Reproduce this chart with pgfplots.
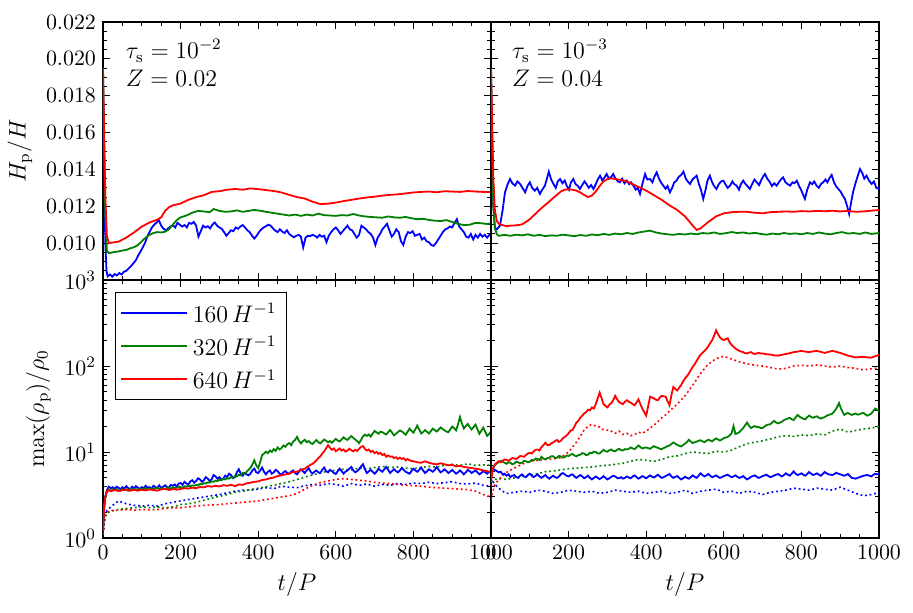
\documentclass[border=0pt]{standalone}
\usepackage{pgfplots}
\pgfplotsset{compat=1.18}
\definecolor{mplblue}{rgb}{0,0,1}
\definecolor{mplgreen}{rgb}{0,0.5,0}
\definecolor{mplred}{rgb}{1,0,0}
\tikzset{
  cb/.style={mplblue, line width=0.9pt},
  cg/.style={mplgreen, line width=0.9pt},
  cr/.style={mplred, line width=0.9pt},
  cdot/.style={line width=0.8pt, dash pattern=on 0.9pt off 1.4pt},
}
\pgfplotsset{
  myax/.style={width=194pt,height=129pt,scale only axis,
    xmin=0,xmax=1000,
    xtick={0,200,400,600,800,1000},
    minor xtick={50,100,150,250,300,350,450,500,550,650,700,750,850,900,950},
    tick align=inside,
    major tick length=3.5pt, minor tick length=1.8pt,
    every tick/.style={black,line width=0.5pt},
    axis line style={line width=0.8pt},
    tick label style={font=\fontsize{10.95}{13}\selectfont},
    label style={font=\fontsize{12}{14}\selectfont},
    xticklabel style={/pgf/number format/1000 sep={}},
  },
  topax/.style={myax, ymin=0.008, ymax=0.022,
    ytick={0.010,0.012,0.014,0.016,0.018,0.020,0.022},
    minor ytick={0.0085,0.009,0.0095,0.0105,0.011,0.0115,0.0125,0.013,0.0135,0.0145,0.015,0.0155,0.0165,0.017,0.0175,0.0185,0.019,0.0195,0.0205,0.021,0.0215},
    scaled y ticks=false,
    yticklabel style={/pgf/number format/.cd, fixed, fixed zerofill, precision=3},
    xticklabels={},
  },
}
\newcommand{\annfont}{\fontsize{12}{14}\selectfont}
\begin{document}
\begin{tikzpicture}
\path (-51.5pt,-37pt) rectangle (405pt,269pt);

%%%%%%%%%%%%%%%% TOP LEFT
\begin{axis}[topax, at={(0pt,129pt)}, anchor=south west, ylabel={$H_{\rm p}/H$}]
\addplot[cb] coordinates {
(0,0.0190)(3,0.0140)(6,0.0100)(9,0.0085)(12,0.00820)(18,0.00830)(24,0.00818)(30,0.00832)(36,0.00825)(42,0.00838)(48,0.00830)(54,0.00845)(60,0.00850)(66,0.00862)(72,0.00875)(78,0.00890)(84,0.00905)(90,0.00930)(96,0.00952)(102,0.00975)(108,0.01000)(114,0.01035)(120,0.01060)(126,0.01085)(132,0.01100)(138,0.01112)(144,0.01125)(150,0.01095)(156,0.01078)(162,0.01070)(168,0.01080)(174,0.01090)(180,0.01098)(186,0.01085)(192,0.01110)(198,0.01100)(204,0.01090)(210,0.01098)(216,0.01085)(222,0.01110)(228,0.01105)(234,0.01115)(240,0.01095)(246,0.01035)(252,0.01065)(258,0.01095)(264,0.01085)(270,0.01092)(276,0.01080)(282,0.01100)(288,0.01112)(294,0.01095)(300,0.01085)(306,0.01078)(312,0.01060)(318,0.01040)(324,0.01055)(330,0.01070)(336,0.01065)(342,0.01085)(348,0.01078)(354,0.01090)(360,0.01098)(366,0.01085)(372,0.01070)(378,0.01060)(384,0.01040)(390,0.01025)(396,0.01040)(402,0.01060)(408,0.01075)(414,0.01085)(420,0.01092)(426,0.01100)(432,0.01095)(438,0.01080)(444,0.01068)(450,0.01060)(456,0.01075)(462,0.01062)(468,0.01055)(474,0.01070)(480,0.01050)(486,0.01040)(492,0.01032)(498,0.01040)(504,0.01045)(510,0.01035)(516,0.00977)(522,0.01030)(528,0.01040)(534,0.01038)(540,0.01045)(546,0.01040)(552,0.01030)(558,0.01045)(564,0.01035)(570,0.01040)(576,0.01005)(582,0.01040)(588,0.01060)(594,0.01075)(600,0.01085)(606,0.01070)(612,0.01050)(618,0.01065)(624,0.01080)(630,0.01095)(636,0.01075)(642,0.01070)(648,0.01050)(654,0.01030)(660,0.01045)(666,0.01095)(672,0.01085)(678,0.01075)(684,0.01060)(690,0.01050)(696,0.01030)(702,0.00990)(708,0.01030)(714,0.01050)(720,0.01075)(726,0.01090)(732,0.01105)(738,0.01070)(744,0.01035)(750,0.01050)(756,0.01075)(762,0.01060)(768,0.01010)(774,0.00990)(780,0.01035)(786,0.01060)(792,0.01055)(798,0.01065)(804,0.01040)(810,0.01045)(816,0.01050)(822,0.01020)(828,0.01030)(834,0.01010)(840,0.01005)(846,0.00990)(852,0.00985)(858,0.01000)(864,0.01020)(870,0.01040)(876,0.01060)(882,0.01075)(888,0.01080)(894,0.01090)(900,0.01085)(906,0.01110)(912,0.01130)(918,0.01090)(924,0.01075)(930,0.01060)(936,0.01035)(942,0.01030)(948,0.01050)(954,0.01020)(960,0.01045)(966,0.01030)(972,0.01050)(978,0.01035)(984,0.01045)(990,0.01030)(996,0.01045)(1000,0.01040)
};
\addplot[cg] coordinates {
(0,0.0195)(3,0.0150)(6,0.0115)(10,0.0096)(15,0.00945)(20,0.00948)(30,0.00952)(40,0.00955)(50,0.00960)(60,0.00963)(70,0.00972)(80,0.00978)(90,0.00990)(100,0.01010)(110,0.01030)(120,0.01045)(130,0.01055)(140,0.01060)(150,0.01058)(160,0.01062)(170,0.01075)(180,0.01100)(190,0.01125)(200,0.01140)(215,0.01150)(230,0.01165)(245,0.01175)(260,0.01172)(275,0.01168)(285,0.01185)(300,0.01175)(315,0.01170)(330,0.01172)(345,0.01178)(360,0.01170)(375,0.01175)(390,0.01180)(405,0.01176)(420,0.01170)(435,0.01165)(450,0.01160)(465,0.01155)(480,0.01150)(495,0.01155)(510,0.01148)(525,0.01155)(540,0.01150)(555,0.01160)(570,0.01152)(585,0.01150)(600,0.01148)(615,0.01152)(630,0.01150)(645,0.01158)(660,0.01150)(675,0.01145)(690,0.01142)(705,0.01140)(720,0.01138)(735,0.01145)(750,0.01140)(765,0.01138)(780,0.01142)(795,0.01135)(810,0.01130)(825,0.01132)(840,0.01126)(855,0.01122)(870,0.01120)(885,0.01125)(900,0.01115)(915,0.01105)(930,0.01098)(945,0.01100)(960,0.01110)(975,0.01108)(990,0.01104)(1000,0.01106)
};
\addplot[cr] coordinates {
(0,0.0195)(3,0.0160)(6,0.0125)(10,0.0104)(15,0.0100)(20,0.01002)(40,0.01008)(60,0.01030)(80,0.01058)(100,0.01090)(120,0.01112)(140,0.01128)(150,0.01140)(160,0.01175)(170,0.01195)(180,0.01205)(200,0.01215)(220,0.01235)(240,0.01250)(260,0.01260)(280,0.01278)(300,0.01282)(320,0.01290)(340,0.01294)(360,0.01290)(380,0.01297)(400,0.01293)(420,0.01288)(440,0.01283)(460,0.01275)(480,0.01262)(500,0.01250)(520,0.01242)(540,0.01225)(560,0.01212)(580,0.01214)(600,0.01220)(620,0.01228)(640,0.01235)(660,0.01242)(680,0.01248)(700,0.01252)(720,0.01258)(740,0.01262)(760,0.01265)(780,0.01270)(800,0.01275)(820,0.01278)(840,0.01280)(860,0.01276)(880,0.01282)(900,0.01280)(920,0.01278)(940,0.01283)(960,0.01280)(980,0.01278)(1000,0.01277)
};
\node[anchor=base west, inner sep=0pt, xshift=11.3pt, yshift=-18.3pt, font=\annfont] at (rel axis cs:0,1) {$\tau_{\rm s}=10^{-2}$};
\node[anchor=base west, inner sep=0pt, xshift=11.3pt, yshift=-32.3pt, font=\annfont] at (rel axis cs:0,1) {$Z=0.02$};
\end{axis}

%%%%%%%%%%%%%%%% TOP RIGHT
\begin{axis}[topax, at={(194pt,129pt)}, anchor=south west, yticklabels={}]
\addplot[cb] coordinates {
(0,0.0190)(3,0.0150)(6,0.0120)(10,0.01085)(15,0.01075)(23,0.01095)(30,0.01180)(36,0.01276)(43,0.01320)(49,0.01348)(55,0.01325)(62,0.01312)(68,0.01335)(75,0.01321)(81,0.01300)(88,0.01276)(94,0.01310)(100,0.01330)(106,0.01300)(113,0.01285)(119,0.01300)(126,0.01267)(132,0.01290)(139,0.01312)(144,0.01350)(149,0.01388)(155,0.01345)(161,0.01321)(167,0.01300)(172,0.01335)(178,0.01348)(184,0.01325)(190,0.01340)(195,0.01312)(201,0.01290)(206,0.01330)(212,0.01348)(218,0.01320)(224,0.01310)(229,0.01294)(235,0.01315)(241,0.01335)(246,0.01321)(252,0.01300)(258,0.01315)(264,0.01294)(270,0.01320)(275,0.01345)(281,0.01366)(287,0.01340)(292,0.01355)(298,0.01375)(304,0.01350)(310,0.01360)(315,0.01375)(321,0.01350)(327,0.01335)(332,0.01330)(338,0.01350)(344,0.01325)(350,0.01339)(356,0.01320)(361,0.01330)(367,0.01312)(373,0.01290)(378,0.01300)(384,0.01267)(390,0.01320)(397,0.01375)(403,0.01345)(410,0.01348)(416,0.01330)(421,0.01360)(427,0.01384)(433,0.01350)(438,0.01330)(444,0.01312)(450,0.01295)(455,0.01310)(461,0.01276)(467,0.01300)(472,0.01330)(478,0.01339)(484,0.01360)(490,0.01370)(496,0.01388)(502,0.01350)(507,0.01335)(513,0.01321)(519,0.01345)(524,0.01355)(530,0.01366)(536,0.01320)(541,0.01290)(547,0.01240)(553,0.01290)(558,0.01340)(564,0.01366)(570,0.01330)(575,0.01310)(581,0.01294)(587,0.01320)(593,0.01335)(599,0.01339)(604,0.01320)(610,0.01300)(616,0.01312)(622,0.01335)(627,0.01320)(633,0.01312)(639,0.01290)(644,0.01320)(650,0.01339)(656,0.01320)(661,0.01310)(667,0.01294)(673,0.01320)(679,0.01345)(685,0.01330)(691,0.01315)(696,0.01340)(701,0.01360)(706,0.01375)(712,0.01350)(719,0.01330)(724,0.01310)(730,0.01325)(736,0.01312)(742,0.01330)(747,0.01345)(753,0.01357)(759,0.01330)(765,0.01320)(771,0.01312)(777,0.01330)(782,0.01325)(788,0.01339)(794,0.01310)(799,0.01290)(804,0.01265)(809,0.01240)(815,0.01290)(822,0.01330)(828,0.01320)(833,0.01335)(839,0.01312)(845,0.01300)(850,0.01320)(856,0.01330)(862,0.01345)(867,0.01330)(873,0.01355)(878,0.01370)(884,0.01330)(889,0.01310)(895,0.01294)(901,0.01280)(906,0.01260)(912,0.01240)(918,0.01200)(923,0.01158)(928,0.01220)(933,0.01276)(940,0.01330)(946,0.01370)(951,0.01402)(957,0.01380)(962,0.01350)(968,0.01366)(974,0.01340)(981,0.01321)(987,0.01335)(993,0.01300)(1000,0.01294)
};
\addplot[cg] coordinates {
(0,0.0195)(3,0.0155)(6,0.0120)(10,0.0108)(15,0.01048)(20,0.01040)(35,0.01045)(50,0.01040)(65,0.01046)(80,0.01042)(95,0.01048)(110,0.01040)(125,0.01045)(140,0.01038)(155,0.01042)(170,0.01040)(185,0.01046)(200,0.01042)(215,0.01038)(230,0.01044)(245,0.01040)(260,0.01047)(275,0.01043)(290,0.01050)(305,0.01045)(320,0.01052)(335,0.01048)(350,0.01055)(365,0.01050)(380,0.01058)(395,0.01063)(410,0.01068)(425,0.01058)(440,0.01052)(455,0.01048)(470,0.01045)(485,0.01050)(500,0.01047)(515,0.01052)(530,0.01048)(545,0.01055)(560,0.01052)(575,0.01058)(590,0.01050)(605,0.01054)(620,0.01060)(635,0.01055)(650,0.01058)(665,0.01052)(680,0.01056)(695,0.01050)(710,0.01046)(725,0.01052)(740,0.01048)(755,0.01055)(770,0.01050)(785,0.01053)(800,0.01048)(815,0.01055)(830,0.01050)(845,0.01058)(860,0.01052)(875,0.01048)(890,0.01055)(905,0.01060)(920,0.01052)(935,0.01055)(950,0.01050)(965,0.01058)(980,0.01050)(1000,0.01055)
};
\addplot[cr] coordinates {
(0,0.0195)(3,0.0165)(6,0.0135)(10,0.0118)(15,0.0112)(20,0.01105)(30,0.01098)(40,0.01092)(50,0.01095)(60,0.01096)(70,0.01098)(80,0.01102)(90,0.01115)(100,0.01130)(110,0.01150)(120,0.01170)(130,0.01190)(140,0.01208)(150,0.01225)(160,0.01245)(170,0.01262)(180,0.01280)(190,0.01290)(200,0.01292)(210,0.01290)(220,0.01285)(230,0.01275)(240,0.01262)(250,0.01250)(260,0.01258)(270,0.01280)(280,0.01310)(290,0.01335)(300,0.01348)(310,0.01352)(320,0.01348)(330,0.01345)(340,0.01340)(350,0.01335)(360,0.01325)(370,0.01315)(380,0.01305)(390,0.01295)(400,0.01285)(420,0.01260)(440,0.01235)(460,0.01205)(480,0.01180)(500,0.01145)(520,0.01095)(530,0.01072)(540,0.01080)(560,0.01115)(580,0.01145)(600,0.01162)(620,0.01168)(640,0.01170)(660,0.01170)(680,0.01165)(700,0.01162)(720,0.01168)(740,0.01170)(760,0.01172)(780,0.01170)(800,0.01174)(820,0.01172)(840,0.01175)(860,0.01173)(880,0.01176)(900,0.01172)(920,0.01175)(940,0.01170)(960,0.01172)(980,0.01176)(1000,0.01180)
};
\node[anchor=base west, inner sep=0pt, xshift=10.3pt, yshift=-18.3pt, font=\annfont] at (rel axis cs:0,1) {$\tau_{\rm s}=10^{-3}$};
\node[anchor=base west, inner sep=0pt, xshift=10.3pt, yshift=-32.3pt, font=\annfont] at (rel axis cs:0,1) {$Z=0.04$};
\end{axis}

%%%%%%%%%%%%%%%% BOTTOM LEFT
\begin{axis}[myax, ymode=log, ymin=1, ymax=1000, ytick={1,10,100,1000}, xlabel={$t/P$},
  at={(0pt,0pt)}, anchor=south west, ylabel={$\max(\rho_{\rm p})/\rho_0$},
  legend style={at={(rel axis cs:0,1)}, anchor=north west, xshift=5.85pt, yshift=-5.85pt,
    draw=black, line width=0.8pt, font=\fontsize{12}{14}\selectfont,
    inner xsep=2.5pt, inner ysep=1.85pt, row sep=0pt, cells={anchor=west},
    nodes={inner xsep=2.5pt, inner ysep=0pt, minimum height=16.6pt, text depth=0pt}},
  legend image code/.code={\draw[#1] (5.35pt,0pt) -- (22.85pt,0pt); \path (0pt,0pt) -- (32.85pt,0pt);},
  ]
\addplot[mplblue, cdot, forget plot] coordinates {
(0,1.1)(5,1.8)(10,2.1)(20,2.3)(30,2.5)(40,2.7)(50,2.6)(60,2.5)(80,2.4)(100,2.35)(120,2.4)(140,2.35)(160,2.5)(180,2.6)(200,2.7)(220,2.8)(240,2.9)(260,3.0)(280,3.1)(300,3.2)(320,3.35)(340,3.5)(360,3.6)(380,3.6)(400,3.7)(420,3.85)(440,3.75)(460,4.0)(480,3.9)(500,3.85)(520,4.05)(540,4.2)(560,4.1)(580,4.3)(600,4.2)(620,4.0)(640,4.3)(660,4.1)(680,4.25)(700,4.0)(720,4.2)(740,4.1)(760,4.3)(780,4.2)(800,4.35)(820,4.3)(840,4.45)(860,4.3)(880,4.4)(900,4.5)(920,4.3)(940,4.25)(960,4.35)(980,4.1)(1000,4.0)
};
\addplot[mplgreen, cdot, forget plot] coordinates {
(0,1.1)(5,1.7)(10,1.95)(20,2.05)(40,2.15)(60,2.2)(80,2.25)(100,2.3)(120,2.25)(140,2.3)(160,2.25)(180,2.3)(200,2.45)(220,2.5)(240,2.6)(260,2.75)(280,2.9)(300,3.05)(320,3.2)(340,3.4)(360,3.5)(380,3.65)(400,3.8)(420,3.95)(440,4.1)(460,4.3)(480,4.5)(500,4.8)(520,5.1)(540,5.4)(560,5.7)(580,6.0)(600,6.1)(620,6.3)(640,6.2)(660,6.5)(680,6.4)(700,6.6)(720,6.8)(740,6.6)(760,6.7)(780,6.5)(800,6.4)(820,6.6)(840,6.8)(860,6.7)(880,7.0)(900,7.2)(920,7.0)(940,7.3)(960,7.0)(980,7.1)(1000,7.0)
};
\addplot[mplred, cdot, forget plot] coordinates {
(0,1.1)(5,1.7)(10,2.0)(20,2.1)(40,2.1)(60,2.15)(80,2.1)(100,2.15)(120,2.12)(140,2.15)(160,2.2)(180,2.25)(200,2.25)(220,2.3)(240,2.35)(260,2.4)(280,2.42)(300,2.45)(320,2.5)(340,2.55)(360,2.6)(380,2.65)(400,2.7)(420,2.8)(440,2.9)(460,3.0)(480,3.1)(500,3.3)(520,3.7)(540,4.1)(560,4.4)(580,4.6)(600,4.8)(620,4.9)(640,4.8)(660,4.7)(680,4.6)(700,4.45)(720,4.35)(740,4.3)(760,4.2)(780,4.1)(800,4.05)(820,4.0)(840,3.9)(860,3.85)(880,3.8)(900,3.75)(920,3.7)(940,3.65)(960,3.5)(980,3.2)(1000,3.0)
};
\addplot[cb] coordinates {
(0,1.2)(3,2.2)(6,3.0)(10,3.6)(15,3.95)(20,3.8)(25,3.9)(30,3.7)(35,3.95)(40,3.85)(45,3.7)(50,3.9)(55,3.75)(60,4.0)(65,3.8)(70,3.7)(75,3.95)(80,3.8)(85,4.0)(90,3.85)(95,3.7)(100,3.9)(105,3.8)(110,4.05)(115,3.85)(120,3.9)(125,3.75)(130,4.05)(135,3.9)(140,3.85)(145,4.1)(150,3.8)(155,3.95)(160,4.1)(165,3.9)(170,3.85)(175,4.15)(180,4.05)(185,4.2)(190,3.95)(195,4.3)(200,4.35)(205,4.15)(210,4.5)(215,4.3)(220,4.2)(225,4.55)(230,4.7)(235,4.4)(240,4.6)(245,4.95)(250,4.8)(255,4.5)(260,4.7)(265,5.1)(270,4.9)(275,4.6)(280,4.8)(285,5.4)(290,5.2)(295,4.9)(300,5.1)(305,4.75)(310,4.9)(315,5.3)(320,5.1)(325,5.6)(330,5.4)(335,4.95)(340,5.1)(345,5.8)(350,6.3)(355,5.6)(360,5.3)(365,5.7)(370,5.5)(375,5.35)(380,5.6)(385,6.1)(390,6.4)(395,5.8)(400,5.7)(405,6.1)(410,6.6)(415,5.9)(420,5.5)(425,5.9)(430,6.1)(435,5.6)(440,5.8)(445,6.2)(450,6.0)(455,5.6)(460,5.45)(465,5.8)(470,6.0)(475,5.7)(480,5.6)(485,5.9)(490,6.1)(495,5.7)(500,5.5)(505,5.9)(510,6.3)(515,6.0)(520,5.7)(525,6.1)(530,6.5)(535,5.9)(540,5.6)(545,5.9)(550,6.1)(555,5.8)(560,5.7)(565,6.2)(570,6.6)(575,6.0)(580,5.8)(585,6.2)(590,6.0)(595,5.7)(600,5.55)(605,6.0)(610,6.4)(615,6.0)(620,5.6)(625,5.9)(630,6.1)(635,6.4)(640,6.7)(645,6.1)(650,5.8)(655,6.0)(660,6.3)(665,6.8)(670,7.2)(675,6.3)(680,5.7)(685,5.95)(690,6.2)(695,5.9)(700,5.6)(705,5.9)(710,6.4)(715,6.1)(720,5.9)(725,6.3)(730,6.7)(735,6.2)(740,5.7)(745,6.0)(750,6.3)(755,6.0)(760,5.8)(765,6.1)(770,6.5)(775,6.2)(780,5.9)(785,5.75)(790,5.6)(795,6.0)(800,6.4)(805,6.1)(810,5.9)(815,6.2)(820,6.6)(825,6.1)(830,5.7)(835,5.95)(840,6.3)(845,6.1)(850,5.9)(855,6.2)(860,6.7)(865,6.2)(870,5.8)(875,6.0)(880,6.3)(885,6.0)(890,5.7)(895,5.9)(900,6.2)(905,5.9)(910,5.6)(915,5.8)(920,6.1)(925,5.8)(930,5.5)(935,5.8)(940,6.2)(945,6.0)(950,5.7)(955,5.9)(960,6.1)(965,5.8)(970,5.5)(975,5.7)(980,6.0)(985,5.8)(990,5.6)(995,5.85)(1000,6.0)
};
\addlegendentry{$160\,H^{-1}$}
\addplot[cg] coordinates {
(0,1.2)(3,2.3)(6,3.0)(10,3.5)(15,3.7)(20,3.55)(25,3.65)(30,3.6)(35,3.7)(40,3.6)(45,3.55)(50,3.7)(55,3.6)(60,3.65)(65,3.55)(70,3.7)(75,3.75)(80,3.65)(85,3.7)(90,3.6)(95,3.75)(100,3.65)(105,3.7)(110,3.8)(115,3.65)(120,3.7)(125,3.8)(130,3.7)(135,3.75)(140,3.85)(145,3.7)(150,3.75)(155,3.8)(160,3.7)(165,3.85)(170,3.8)(175,3.75)(180,3.9)(185,3.8)(190,3.85)(195,3.95)(200,3.9)(205,3.85)(210,4.0)(215,3.95)(220,4.05)(225,4.0)(230,4.1)(235,4.05)(240,4.15)(245,4.1)(250,4.25)(255,4.2)(260,4.35)(265,4.3)(270,4.45)(275,4.4)(280,4.55)(285,4.5)(290,4.65)(295,4.6)(300,4.75)(305,4.7)(310,4.85)(315,4.8)(320,4.95)(325,4.9)(330,5.1)(335,5.0)(340,5.25)(345,5.2)(350,5.45)(355,5.35)(360,5.7)(365,5.6)(370,5.9)(375,6.2)(380,6.5)(385,7.2)(390,8.0)(395,7.0)(400,6.5)(405,7.6)(410,9.2)(415,9.6)(420,10.1)(425,9.7)(430,10.4)(435,10.0)(440,10.8)(445,10.3)(450,11.3)(455,10.7)(460,11.1)(465,11.9)(470,11.5)(475,12.3)(480,12.7)(485,12.0)(490,13.2)(495,13.8)(500,15.0)(505,13.5)(510,12.6)(515,13.3)(520,13.9)(525,13.0)(530,13.4)(535,12.7)(540,12.4)(545,13.1)(550,13.8)(555,13.0)(560,12.6)(565,13.3)(570,14.0)(575,13.5)(580,13.0)(585,13.4)(590,12.8)(595,13.5)(600,14.2)(605,13.6)(610,13.3)(615,14.0)(620,14.8)(625,14.2)(630,13.8)(635,14.6)(640,15.3)(645,14.6)(650,14.0)(655,13.4)(660,12.7)(665,13.8)(670,15.2)(675,15.9)(680,15.4)(685,16.0)(690,15.1)(695,16.3)(700,17.6)(705,16.9)(710,16.3)(715,17.2)(720,17.0)(725,16.4)(730,16.0)(735,17.0)(740,18.0)(745,16.8)(750,15.6)(755,16.3)(760,17.0)(765,17.8)(770,17.4)(775,16.6)(780,15.9)(785,17.2)(790,18.7)(795,17.6)(800,16.8)(805,18.4)(810,20.3)(815,18.2)(820,16.4)(825,17.1)(830,18.0)(835,17.2)(840,16.4)(845,17.5)(850,18.7)(855,18.0)(860,17.3)(865,18.2)(870,19.3)(875,18.6)(880,17.9)(885,17.3)(890,17.0)(895,18.3)(900,19.8)(905,18.9)(910,17.8)(915,21.0)(920,25.5)(925,21.5)(930,18.8)(935,20.0)(940,21.2)(945,19.6)(950,18.3)(955,19.5)(960,20.8)(965,18.4)(970,16.3)(975,17.6)(980,19.2)(985,17.2)(990,15.4)(995,16.2)(1000,17.2)
};
\addlegendentry{$320\,H^{-1}$}
\addplot[cr] coordinates {
(0,1.2)(3,2.3)(6,3.0)(10,3.45)(15,3.6)(20,3.5)(30,3.62)(40,3.52)(50,3.6)(60,3.66)(70,3.55)(80,3.62)(90,3.55)(100,3.65)(110,3.58)(120,3.68)(130,3.6)(140,3.55)(150,3.68)(160,3.72)(170,3.62)(180,3.7)(190,3.65)(200,3.72)(210,3.8)(220,3.75)(230,3.85)(240,3.8)(250,3.92)(260,3.88)(270,4.02)(280,3.95)(290,4.05)(300,3.98)(310,4.12)(320,4.05)(330,4.15)(340,4.02)(350,4.2)(360,4.15)(370,4.32)(380,4.4)(390,4.5)(400,4.55)(410,4.72)(420,4.8)(430,4.95)(440,5.05)(450,5.25)(460,5.35)(470,5.5)(480,5.6)(490,5.85)(500,5.9)(510,6.2)(520,6.4)(530,6.9)(540,7.3)(545,7.6)(550,8.0)(555,8.5)(560,8.9)(565,9.6)(570,10.2)(575,11.0)(580,12.0)(585,11.2)(590,10.6)(595,11.0)(600,10.2)(605,10.6)(610,11.0)(615,10.4)(620,10.7)(625,10.1)(630,10.4)(635,10.9)(640,10.5)(645,10.2)(650,10.6)(655,10.3)(660,10.9)(665,11.5)(670,11.7)(675,10.9)(680,10.4)(685,10.7)(690,10.0)(695,10.3)(700,9.7)(705,10.0)(710,9.5)(715,9.8)(720,9.2)(725,9.5)(730,8.8)(735,9.1)(740,8.8)(745,8.9)(750,8.5)(755,8.7)(760,8.3)(765,8.6)(770,8.3)(775,8.5)(780,8.0)(785,8.3)(790,8.0)(795,7.9)(800,7.8)(810,7.6)(820,7.5)(830,7.8)(840,7.5)(850,7.3)(860,7.2)(870,7.4)(880,7.2)(890,7.0)(900,7.1)(910,6.8)(920,6.9)(930,6.7)(940,6.6)(950,6.5)(960,6.4)(970,6.3)(980,6.1)(990,6.0)(1000,5.8)
};
\addlegendentry{$640\,H^{-1}$}
\end{axis}

%%%%%%%%%%%%%%%% BOTTOM RIGHT
\begin{axis}[myax, ymode=log, ymin=1, ymax=1000, ytick={1,10,100,1000}, xlabel={$t/P$},
  at={(194pt,0pt)}, anchor=south west, yticklabels={}]
\addplot[mplblue, cdot] coordinates {
(0,4.0)(5,4.5)(10,4.2)(20,3.8)(30,3.5)(40,3.3)(60,3.4)(80,3.5)(100,3.4)(120,3.6)(140,3.5)(160,3.3)(180,3.4)(200,3.6)(220,3.5)(240,3.4)(260,3.5)(280,3.3)(300,3.4)(320,3.6)(340,3.5)(360,3.4)(380,3.5)(400,3.3)(420,3.4)(440,3.5)(460,3.3)(480,3.4)(500,3.6)(520,3.3)(540,3.5)(560,3.6)(580,3.7)(600,3.4)(620,3.5)(640,3.3)(660,3.5)(680,3.4)(700,3.2)(720,3.4)(740,3.5)(760,3.6)(780,3.8)(800,3.7)(820,3.6)(840,3.8)(860,3.7)(880,3.6)(900,3.9)(920,3.6)(940,3.3)(960,3.1)(980,3.2)(1000,3.4)
};
\addplot[mplgreen, cdot] coordinates {
(0,4.5)(10,4.8)(20,4.9)(40,4.8)(60,5.0)(80,5.2)(100,5.4)(120,5.6)(140,5.9)(160,6.0)(180,6.2)(200,6.4)(220,6.5)(240,6.6)(260,6.7)(280,6.9)(300,7.0)(320,7.2)(340,7.4)(360,7.8)(380,8.2)(400,8.0)(420,7.8)(440,8.2)(460,8.8)(480,9.0)(500,9.6)(520,10.0)(540,9.8)(560,9.6)(580,10.2)(600,10.0)(620,10.5)(640,11.5)(660,12.5)(680,13.0)(700,13.5)(720,14.2)(740,15.0)(760,15.5)(780,15.2)(800,15.8)(820,15.5)(840,16.2)(860,15.8)(880,17.5)(900,18.5)(920,17.0)(940,17.8)(960,18.5)(980,19.0)(1000,19.8)
};
\addplot[mplred, cdot] coordinates {
(0,2.8)(5,3.5)(10,4.2)(20,4.8)(40,5.8)(60,6.5)(80,7.2)(100,7.8)(120,8.0)(140,8.2)(160,8.3)(180,8.6)(200,10.0)(220,13.0)(240,18.0)(250,20.0)(260,21.0)(270,20.0)(280,19.5)(290,18.0)(300,18.0)(310,17.5)(320,16.5)(330,17.5)(340,16.0)(350,16.5)(360,15.5)(370,16.0)(380,17.0)(390,16.5)(400,17.5)(410,19.0)(420,20.5)(430,22.5)(440,25.0)(450,27.0)(460,30.0)(480,36.0)(500,45.0)(520,60.0)(540,82.0)(560,105.0)(580,122.0)(600,130.0)(620,120.0)(640,112.0)(660,106.0)(680,102.0)(700,100.0)(720,96.0)(740,92.0)(760,94.0)(780,100.0)(800,102.0)(820,100.0)(840,103.0)(860,100.0)(880,97.0)(900,100.0)(920,96.0)(940,94.0)(960,90.0)(980,93.0)(1000,95.0)
};
\addplot[cb] coordinates {
(0,6.0)(5,6.4)(10,6.2)(15,6.0)(20,5.8)(25,5.9)(30,5.5)(35,5.6)(40,5.3)(45,5.5)(50,5.1)(55,5.3)(60,5.4)(65,5.1)(70,5.0)(75,5.3)(80,5.5)(85,5.2)(90,5.1)(95,5.4)(100,5.6)(105,5.3)(110,5.1)(115,5.3)(120,5.5)(125,5.2)(130,5.0)(135,5.2)(140,5.4)(145,5.1)(150,4.9)(155,5.1)(160,5.3)(165,5.1)(170,5.0)(175,5.2)(180,5.5)(185,5.7)(190,5.5)(195,5.3)(200,5.2)(205,5.4)(210,5.5)(215,5.2)(220,5.0)(225,5.2)(230,5.4)(235,5.2)(240,4.95)(245,5.1)(250,5.3)(255,5.0)(260,4.8)(265,5.0)(270,5.2)(275,5.0)(280,4.85)(285,5.0)(290,5.25)(295,5.0)(300,4.8)(305,4.95)(310,5.15)(315,5.3)(320,5.2)(325,5.0)(330,4.95)(335,5.1)(340,4.9)(345,5.0)(350,5.2)(355,5.05)(360,4.95)(365,5.2)(370,5.35)(375,5.1)(380,4.9)(385,5.05)(390,5.25)(395,5.1)(400,4.95)(405,5.15)(410,5.35)(415,5.15)(420,5.05)(425,5.25)(430,5.45)(435,5.2)(440,5.0)(445,5.1)(450,5.25)(455,5.4)(460,5.55)(465,5.2)(470,5.0)(475,5.15)(480,5.25)(485,5.0)(490,4.8)(495,4.95)(500,5.15)(505,5.0)(510,4.9)(515,5.1)(520,5.35)(525,5.15)(530,5.0)(535,5.3)(540,5.65)(545,5.4)(550,5.2)(555,5.35)(560,5.55)(565,5.3)(570,5.1)(575,5.2)(580,5.35)(585,5.15)(590,5.0)(595,5.1)(600,5.25)(605,5.35)(610,5.45)(615,5.25)(620,5.1)(625,5.2)(630,5.35)(635,5.15)(640,5.0)(645,5.1)(650,5.25)(655,5.0)(660,4.8)(665,4.95)(670,5.15)(675,5.25)(680,5.35)(685,5.15)(690,5.0)(695,5.1)(700,5.25)(705,5.35)(710,5.45)(715,5.25)(720,5.1)(725,5.2)(730,5.35)(735,5.45)(740,5.55)(745,5.35)(750,5.2)(755,5.4)(760,5.65)(765,5.45)(770,5.3)(775,5.6)(780,5.95)(785,5.6)(790,5.4)(795,5.5)(800,5.65)(805,5.45)(810,5.3)(815,5.55)(820,5.85)(825,5.6)(830,5.4)(835,5.5)(840,5.65)(845,5.45)(850,5.3)(855,5.55)(860,5.85)(865,5.65)(870,5.5)(875,5.45)(880,5.4)(885,5.55)(890,5.75)(895,5.6)(900,5.5)(905,5.4)(910,5.3)(915,5.4)(920,5.55)(925,5.25)(930,5.0)(935,4.95)(940,4.9)(945,5.0)(950,5.1)(955,5.2)(960,5.3)(965,5.35)(970,5.4)(975,5.3)(980,5.2)(985,5.4)(990,5.6)(995,5.5)(1000,5.55)
};
\addplot[cg] coordinates {
(0,5.0)(5,6.5)(10,7.0)(15,7.4)(20,7.6)(25,7.9)(30,7.7)(35,7.5)(40,7.3)(45,7.6)(50,7.5)(55,7.2)(60,7.35)(65,7.7)(70,7.6)(75,7.4)(80,7.5)(85,7.9)(90,7.8)(95,7.6)(100,7.7)(105,8.1)(110,8.0)(115,8.4)(120,8.3)(125,8.1)(130,8.8)(135,8.4)(140,8.2)(145,8.5)(150,8.6)(155,8.9)(160,8.95)(165,8.5)(170,8.6)(175,9.0)(180,8.9)(185,8.6)(190,8.7)(195,9.1)(200,9.0)(205,9.3)(210,9.5)(215,9.1)(220,8.9)(225,9.2)(230,9.3)(235,9.7)(240,9.6)(245,9.2)(250,9.3)(255,9.8)(260,9.7)(265,10.1)(270,10.0)(275,9.6)(280,9.6)(285,10.1)(290,10.6)(295,10.2)(300,10.1)(305,10.5)(310,10.7)(315,10.3)(320,10.2)(325,10.6)(330,10.9)(335,10.5)(340,10.4)(345,10.8)(350,10.7)(355,10.9)(360,11.3)(365,11.0)(370,10.8)(375,11.3)(380,11.9)(385,11.4)(390,11.0)(395,11.2)(400,11.3)(405,11.1)(410,10.9)(415,11.3)(420,11.7)(425,11.4)(430,11.2)(435,10.9)(440,10.8)(445,11.1)(450,11.4)(455,11.7)(460,11.9)(465,12.4)(470,12.9)(475,12.5)(480,12.1)(485,11.8)(490,11.6)(495,12.0)(500,12.5)(505,13.1)(510,13.9)(515,13.2)(520,12.7)(525,13.0)(530,13.2)(535,13.5)(540,13.7)(545,13.3)(550,13.0)(555,13.5)(560,13.9)(565,13.6)(570,13.3)(575,13.9)(580,14.4)(585,14.0)(590,13.6)(595,14.0)(600,14.5)(605,14.7)(610,15.0)(615,15.6)(620,16.5)(625,20.0)(630,16.2)(635,16.5)(640,17.0)(645,18.0)(650,19.0)(655,20.5)(660,22.0)(665,20.2)(670,19.0)(675,19.6)(680,20.0)(685,19.5)(690,19.5)(695,19.0)(700,19.0)(705,19.8)(710,20.5)(715,20.9)(720,21.0)(725,22.2)(730,23.0)(735,22.0)(740,21.5)(745,22.0)(750,22.5)(755,23.5)(760,24.0)(765,24.5)(770,25.0)(775,24.0)(780,23.5)(785,25.2)(790,27.0)(795,25.8)(800,25.0)(805,24.3)(810,24.0)(815,25.4)(820,26.5)(825,25.6)(830,25.0)(835,25.6)(840,26.0)(845,25.0)(850,24.5)(855,25.0)(860,25.5)(865,26.4)(870,27.0)(875,27.4)(880,28.0)(885,29.8)(890,32.0)(897,37.0)(902,32.0)(905,30.0)(910,27.0)(915,27.8)(920,28.5)(925,27.6)(930,27.0)(935,27.6)(940,28.0)(945,27.2)(950,27.5)(955,28.2)(960,28.5)(965,27.3)(970,26.5)(975,27.1)(980,28.0)(985,29.8)(990,32.0)(995,31.0)(1000,30.0)
};
\addplot[cr] coordinates {
(0,4.5)(5,6.5)(10,7.2)(15,7.5)(20,7.8)(25,7.6)(30,7.9)(35,8.2)(40,8.1)(45,7.9)(50,8.2)(55,8.5)(60,8.4)(65,8.3)(70,8.6)(75,9.0)(80,8.9)(85,8.8)(90,9.2)(95,9.6)(100,9.8)(105,9.6)(110,10.2)(115,10.6)(120,10.7)(125,10.4)(130,11.4)(135,12.0)(140,12.8)(145,12.1)(150,12.0)(155,12.6)(160,12.9)(165,13.4)(170,13.8)(175,13.1)(180,13.5)(185,14.4)(190,15.0)(195,15.6)(200,16.5)(205,17.8)(210,18.0)(215,19.8)(220,22.0)(225,23.0)(230,25.0)(235,26.5)(240,28.0)(245,29.0)(250,31.0)(255,30.5)(260,33.0)(265,32.0)(270,36.0)(275,42.0)(280,49.0)(285,42.0)(290,36.0)(295,34.5)(300,33.0)(305,35.5)(310,37.0)(315,40.0)(320,45.0)(325,41.0)(330,38.0)(335,37.0)(340,36.0)(345,38.5)(350,40.0)(355,38.5)(360,37.5)(365,36.0)(370,35.0)(375,37.5)(380,41.0)(385,36.0)(390,32.0)(395,29.0)(400,26.5)(405,34.0)(410,44.0)(415,43.0)(420,42.0)(425,40.5)(430,40.0)(435,43.0)(440,45.0)(445,44.5)(450,44.0)(455,39.0)(460,35.0)(465,46.0)(470,57.0)(475,54.0)(480,52.0)(485,56.0)(490,60.0)(495,66.0)(500,72.0)(505,76.0)(510,82.0)(515,90.0)(520,98.0)(525,105.0)(530,115.0)(535,125.0)(540,135.0)(545,142.0)(550,150.0)(555,158.0)(560,170.0)(565,185.0)(570,200.0)(575,225.0)(580,260.0)(585,235.0)(590,215.0)(595,205.0)(600,200.0)(605,206.0)(610,210.0)(615,190.0)(620,175.0)(625,168.0)(630,160.0)(635,154.0)(640,150.0)(645,147.0)(650,145.0)(655,141.0)(660,140.0)(665,143.0)(670,145.0)(675,140.0)(680,138.0)(685,140.0)(690,142.0)(695,140.0)(700,140.0)(710,137.0)(720,136.0)(730,133.0)(740,132.0)(750,135.0)(760,138.0)(770,141.0)(780,145.0)(790,147.0)(800,150.0)(810,147.0)(820,145.0)(830,148.0)(840,150.0)(850,146.0)(860,142.0)(870,146.0)(880,150.0)(890,146.0)(900,142.0)(910,137.0)(920,132.0)(930,129.0)(940,126.0)(950,127.0)(960,128.0)(970,126.0)(980,125.0)(990,130.0)(1000,135.0)
};
\end{axis}
\end{tikzpicture}
\end{document}
